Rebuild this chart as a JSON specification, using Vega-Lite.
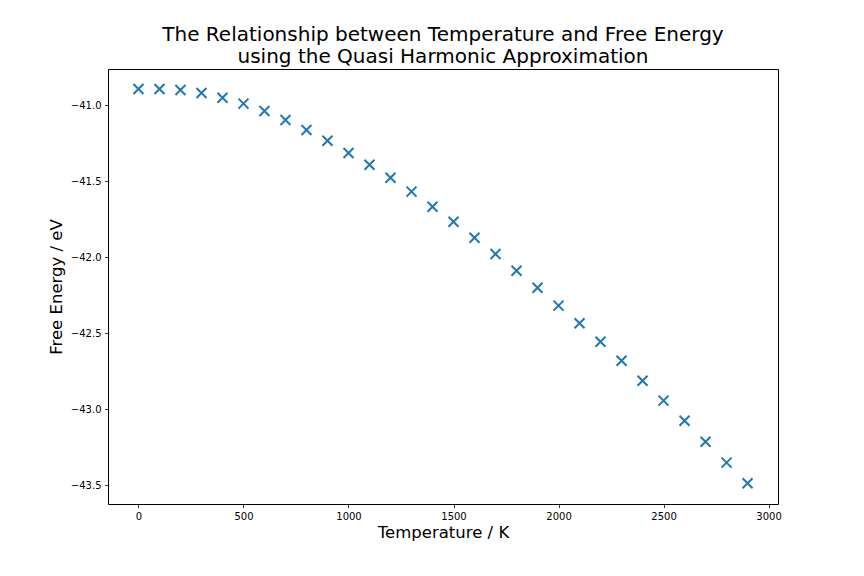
{
  "$schema": "https://vega.github.io/schema/vega-lite/v6.json",
  "width": 670,
  "height": 435,
  "autosize": {"type": "none"},
  "padding": {"left": 108, "top": 69, "right": 86, "bottom": 72},
  "background": "white",
  "title": {
    "text": ["The Relationship between Temperature and Free Energy", "using the Quasi Harmonic Approximation"],
    "font": "DejaVu Sans",
    "fontSize": 20,
    "fontWeight": "normal",
    "color": "black",
    "anchor": "middle",
    "lineHeight": 22,
    "offset": 2
  },
  "data": {
    "values": [
      {"T": 0, "F": -40.895},
      {"T": 100, "F": -40.895},
      {"T": 200, "F": -40.901},
      {"T": 300, "F": -40.921},
      {"T": 400, "F": -40.952},
      {"T": 500, "F": -40.991},
      {"T": 600, "F": -41.039},
      {"T": 700, "F": -41.099},
      {"T": 800, "F": -41.164},
      {"T": 900, "F": -41.235},
      {"T": 1000, "F": -41.316},
      {"T": 1100, "F": -41.393},
      {"T": 1200, "F": -41.478},
      {"T": 1300, "F": -41.570},
      {"T": 1400, "F": -41.669},
      {"T": 1500, "F": -41.768},
      {"T": 1600, "F": -41.873},
      {"T": 1700, "F": -41.980},
      {"T": 1800, "F": -42.090},
      {"T": 1900, "F": -42.202},
      {"T": 2000, "F": -42.320},
      {"T": 2100, "F": -42.436},
      {"T": 2200, "F": -42.557},
      {"T": 2300, "F": -42.682},
      {"T": 2400, "F": -42.814},
      {"T": 2500, "F": -42.945},
      {"T": 2600, "F": -43.077},
      {"T": 2700, "F": -43.215},
      {"T": 2800, "F": -43.353},
      {"T": 2900, "F": -43.489}
    ]
  },
  "mark": {
    "type": "point",
    "shape": "M-1,-1L1,1M1,-1L-1,1",
    "filled": false,
    "size": 100,
    "strokeWidth": 2,
    "color": "#1f77b4",
    "opacity": 1
  },
  "encoding": {
    "x": {
      "field": "T",
      "type": "quantitative",
      "title": "Temperature / K",
      "scale": {"domain": [-145, 3045], "nice": false, "zero": false},
      "axis": {"values": [0, 500, 1000, 1500, 2000, 2500, 3000], "format": "d", "titlePadding": 3}
    },
    "y": {
      "field": "F",
      "type": "quantitative",
      "title": "Free Energy / eV",
      "scale": {"domain": [-43.625, -40.763], "nice": false, "zero": false},
      "axis": {"values": [-43.5, -43.0, -42.5, -42.0, -41.5, -41.0], "format": ".1f", "titlePadding": 6}
    }
  },
  "config": {
    "view": {"stroke": "black", "strokeWidth": 1},
    "axis": {
      "grid": false,
      "domain": false,
      "tickColor": "black",
      "tickSize": 3.5,
      "tickWidth": 0.8,
      "labelFont": "DejaVu Sans",
      "labelFontSize": 10,
      "labelColor": "black",
      "labelPadding": 3.5,
      "titleFont": "DejaVu Sans",
      "titleFontSize": 16.5,
      "titleFontWeight": "normal",
      "titleColor": "black"
    }
  }
}
